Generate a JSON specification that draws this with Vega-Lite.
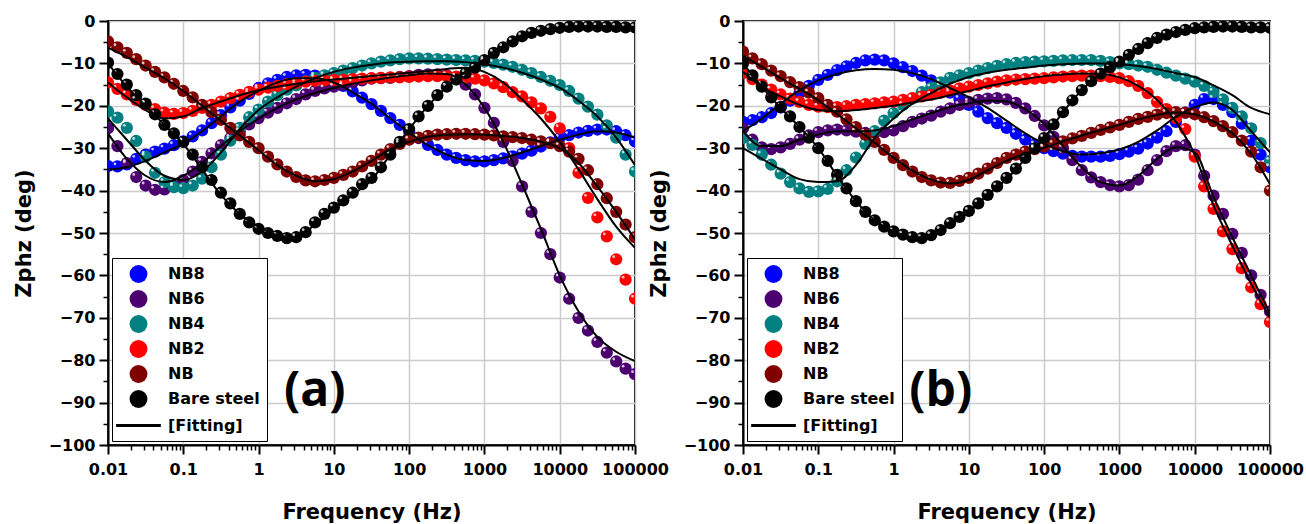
{
"$schema": "https://vega.github.io/schema/vega-lite/v6.json",
"background": "white",
"padding": {"left": 12, "top": 12, "right": 0, "bottom": 0},
"bounds": "flush",
"spacing": 108,
"resolve": {"scale": {"fill": "independent", "stroke": "independent", "shape": "independent", "strokeWidth": "independent"},
            "legend": {"fill": "independent", "stroke": "independent", "shape": "independent", "strokeWidth": "independent"}},
"config": {
  "view": {"stroke": "black", "strokeWidth": 2, "fill": "white"},
  "axis": {"labelFont": "DejaVu Sans", "labelFontWeight": "bold", "labelFontSize": 16, "labelColor": "black",
           "titleFont": "DejaVu Sans", "titleFontWeight": "bold", "titleFontSize": 21, "titleColor": "black",
           "tickColor": "black", "tickWidth": 2, "domainColor": "black", "domainWidth": 2,
           "gridColor": "#cccccc", "gridWidth": 1.5, "labelOverlap": false, "labelFlush": false},
  "legend": {"labelFont": "DejaVu Sans", "labelFontWeight": "bold", "labelFontSize": 16, "labelColor": "black",
             "orient": "bottom-left", "offset": 4, "padding": 7, "rowPadding": 7, "labelOffset": 19, "symbolSize": 320,
             "titleOrient": "left", "titleFontSize": 16, "titlePadding": 9,
             "strokeColor": "black", "fillColor": "white"}
},
"datasets": {
"pa": [
{"f":0.01,"NB8":-34.2,"NB6":-25.3,"NB4":-21.3,"NB2":-14.5,"NB":-4.8,"Bare steel":-9.8},
{"f":0.01334,"NB8":-34.3,"NB6":-29.5,"NB4":-22.8,"NB2":-16,"NB":-6.2,"Bare steel":-12.5},
{"f":0.01778,"NB8":-33.8,"NB6":-33.5,"NB4":-25.2,"NB2":-17.3,"NB":-7.5,"Bare steel":-15},
{"f":0.02371,"NB8":-32.5,"NB6":-36.8,"NB4":-28.3,"NB2":-18.6,"NB":-9,"Bare steel":-17.5},
{"f":0.03162,"NB8":-31.5,"NB6":-38.8,"NB4":-32,"NB2":-19.8,"NB":-10.5,"Bare steel":-19.5},
{"f":0.04217,"NB8":-30.8,"NB6":-39.8,"NB4":-35.8,"NB2":-20.8,"NB":-12,"Bare steel":-22},
{"f":0.05623,"NB8":-30.1,"NB6":-39.7,"NB4":-38,"NB2":-21.6,"NB":-13.3,"Bare steel":-24.5},
{"f":0.07499,"NB8":-29.3,"NB6":-38.9,"NB4":-39.2,"NB2":-21.9,"NB":-14.8,"Bare steel":-26.5},
{"f":0.1,"NB8":-28.4,"NB6":-37.5,"NB4":-39.4,"NB2":-21.7,"NB":-16.5,"Bare steel":-28.5},
{"f":0.1334,"NB8":-27.2,"NB6":-35.5,"NB4":-38.8,"NB2":-21.2,"NB":-18,"Bare steel":-31.5},
{"f":0.1778,"NB8":-25.8,"NB6":-33.2,"NB4":-37.2,"NB2":-20.5,"NB":-19.8,"Bare steel":-34.5},
{"f":0.2371,"NB8":-24.1,"NB6":-31.2,"NB4":-34.5,"NB2":-19.8,"NB":-21.5,"Bare steel":-37.5},
{"f":0.3162,"NB8":-22.2,"NB6":-29.3,"NB4":-31.5,"NB2":-19,"NB":-23.3,"Bare steel":-40.5},
{"f":0.4217,"NB8":-20.4,"NB6":-27.6,"NB4":-28.2,"NB2":-18.2,"NB":-25.2,"Bare steel":-43},
{"f":0.5623,"NB8":-18.8,"NB6":-26,"NB4":-25.2,"NB2":-17.4,"NB":-27,"Bare steel":-45.5},
{"f":0.7499,"NB8":-17.2,"NB6":-24.4,"NB4":-22.7,"NB2":-16.7,"NB":-28.5,"Bare steel":-47.5},
{"f":1,"NB8":-15.8,"NB6":-22.9,"NB4":-20.9,"NB2":-16.2,"NB":-30,"Bare steel":-49},
{"f":1.334,"NB8":-14.7,"NB6":-21.6,"NB4":-19,"NB2":-15.7,"NB":-32,"Bare steel":-50},
{"f":1.778,"NB8":-13.9,"NB6":-20.5,"NB4":-17.5,"NB2":-15.3,"NB":-33.8,"Bare steel":-50.7},
{"f":2.371,"NB8":-13.2,"NB6":-19.4,"NB4":-16.2,"NB2":-14.9,"NB":-35.5,"Bare steel":-51.2},
{"f":3.162,"NB8":-12.8,"NB6":-18.4,"NB4":-15.2,"NB2":-14.6,"NB":-36.8,"Bare steel":-51},
{"f":4.217,"NB8":-12.7,"NB6":-17.3,"NB4":-14.2,"NB2":-14.3,"NB":-37.6,"Bare steel":-49.8},
{"f":5.623,"NB8":-12.9,"NB6":-16.5,"NB4":-13.4,"NB2":-14.1,"NB":-37.8,"Bare steel":-47.5},
{"f":7.499,"NB8":-13.5,"NB6":-15.9,"NB4":-12.8,"NB2":-14,"NB":-37.5,"Bare steel":-45.5},
{"f":10,"NB8":-14.3,"NB6":-15.5,"NB4":-12.3,"NB2":-13.9,"NB":-37,"Bare steel":-44},
{"f":13.34,"NB8":-15.3,"NB6":-15,"NB4":-11.7,"NB2":-13.8,"NB":-36.3,"Bare steel":-42.3},
{"f":17.78,"NB8":-16.6,"NB6":-14.5,"NB4":-11.1,"NB2":-13.7,"NB":-35.5,"Bare steel":-40.5},
{"f":23.71,"NB8":-18.1,"NB6":-14,"NB4":-10.5,"NB2":-13.6,"NB":-34.3,"Bare steel":-38.5},
{"f":31.62,"NB8":-19.6,"NB6":-13.6,"NB4":-10,"NB2":-13.5,"NB":-33,"Bare steel":-37},
{"f":42.17,"NB8":-21.2,"NB6":-13.5,"NB4":-9.6,"NB2":-13.4,"NB":-31.5,"Bare steel":-34.5},
{"f":56.23,"NB8":-22.9,"NB6":-13.4,"NB4":-9.3,"NB2":-13.3,"NB":-30.2,"Bare steel":-31.5},
{"f":74.99,"NB8":-24.5,"NB6":-13.2,"NB4":-9,"NB2":-13.3,"NB":-29,"Bare steel":-28.5},
{"f":100,"NB8":-26,"NB6":-13,"NB4":-8.8,"NB2":-13.2,"NB":-28,"Bare steel":-25.5},
{"f":133.4,"NB8":-27.6,"NB6":-12.7,"NB4":-8.8,"NB2":-13.1,"NB":-27.5,"Bare steel":-22.5},
{"f":177.8,"NB8":-29.2,"NB6":-12.6,"NB4":-8.9,"NB2":-13,"NB":-27.1,"Bare steel":-20},
{"f":237.1,"NB8":-30.4,"NB6":-12.6,"NB4":-9,"NB2":-13,"NB":-26.8,"Bare steel":-17.5},
{"f":316.2,"NB8":-31.5,"NB6":-12.8,"NB4":-9.1,"NB2":-13,"NB":-26.7,"Bare steel":-15.5},
{"f":421.7,"NB8":-32.3,"NB6":-13.6,"NB4":-9.2,"NB2":-13.1,"NB":-26.6,"Bare steel":-13.8},
{"f":562.3,"NB8":-32.8,"NB6":-15,"NB4":-9.3,"NB2":-13.3,"NB":-26.6,"Bare steel":-12.3},
{"f":749.9,"NB8":-33.1,"NB6":-17.3,"NB4":-9.4,"NB2":-13.6,"NB":-26.7,"Bare steel":-11},
{"f":1000,"NB8":-33.1,"NB6":-20.5,"NB4":-9.6,"NB2":-14,"NB":-26.8,"Bare steel":-9.2},
{"f":1334,"NB8":-32.8,"NB6":-24,"NB4":-9.9,"NB2":-14.7,"NB":-27,"Bare steel":-7.5},
{"f":1778,"NB8":-32.4,"NB6":-28.5,"NB4":-10.3,"NB2":-15.6,"NB":-27.2,"Bare steel":-6.2},
{"f":2371,"NB8":-31.9,"NB6":-33,"NB4":-10.8,"NB2":-16.8,"NB":-27.4,"Bare steel":-4.8},
{"f":3162,"NB8":-31.3,"NB6":-39,"NB4":-11.5,"NB2":-17.8,"NB":-27.6,"Bare steel":-3.6},
{"f":4217,"NB8":-30.6,"NB6":-45,"NB4":-12.3,"NB2":-19.2,"NB":-28,"Bare steel":-2.8},
{"f":5623,"NB8":-29.6,"NB6":-50,"NB4":-13.2,"NB2":-20.6,"NB":-28.4,"Bare steel":-2.3},
{"f":7499,"NB8":-28.6,"NB6":-55,"NB4":-14.1,"NB2":-22.6,"NB":-28.8,"Bare steel":-1.9},
{"f":10000,"NB8":-27.6,"NB6":-60.5,"NB4":-15.1,"NB2":-25.3,"NB":-29.5,"Bare steel":-1.6},
{"f":13340,"NB8":-26.9,"NB6":-65.5,"NB4":-16.5,"NB2":-30,"NB":-30.8,"Bare steel":-1.4},
{"f":17780,"NB8":-26.3,"NB6":-70,"NB4":-18.3,"NB2":-35.8,"NB":-32.5,"Bare steel":-1.3},
{"f":23710,"NB8":-25.9,"NB6":-73,"NB4":-20.2,"NB2":-41.7,"NB":-35.2,"Bare steel":-1.3},
{"f":31620,"NB8":-25.6,"NB6":-75.7,"NB4":-22.1,"NB2":-46.3,"NB":-38.5,"Bare steel":-1.3},
{"f":42170,"NB8":-25.6,"NB6":-78.2,"NB4":-24.6,"NB2":-50.8,"NB":-41.8,"Bare steel":-1.4},
{"f":56230,"NB8":-26,"NB6":-80.3,"NB4":-27.5,"NB2":-56.2,"NB":-45,"Bare steel":-1.4},
{"f":74990,"NB8":-26.9,"NB6":-82,"NB4":-31.5,"NB2":-61,"NB":-48,"Bare steel":-1.5},
{"f":100000,"NB8":-28.4,"NB6":-83.3,"NB4":-35.5,"NB2":-65.5,"NB":-51,"Bare steel":-1.5}
],
"pb": [
{"f":0.01,"NB8":-23.8,"NB6":-25.3,"NB4":-27.6,"NB2":-12.3,"NB":-7.2,"Bare steel":-10},
{"f":0.01334,"NB8":-23.4,"NB6":-28,"NB4":-29.2,"NB2":-13.7,"NB":-8.8,"Bare steel":-12.8},
{"f":0.01778,"NB8":-22.7,"NB6":-29.8,"NB4":-31.5,"NB2":-15,"NB":-10.2,"Bare steel":-15.5},
{"f":0.02371,"NB8":-21.7,"NB6":-30.2,"NB4":-33.9,"NB2":-16.2,"NB":-11.7,"Bare steel":-18},
{"f":0.03162,"NB8":-20.4,"NB6":-29.8,"NB4":-36,"NB2":-17.3,"NB":-13,"Bare steel":-20.3},
{"f":0.04217,"NB8":-18.8,"NB6":-29,"NB4":-38,"NB2":-18.3,"NB":-14.4,"Bare steel":-22.5},
{"f":0.05623,"NB8":-17,"NB6":-28,"NB4":-39.5,"NB2":-19.1,"NB":-15.6,"Bare steel":-25},
{"f":0.07499,"NB8":-15.3,"NB6":-27,"NB4":-40.3,"NB2":-19.8,"NB":-16.9,"Bare steel":-27.5},
{"f":0.1,"NB8":-13.9,"NB6":-26.2,"NB4":-40.2,"NB2":-20.2,"NB":-18.2,"Bare steel":-30},
{"f":0.1334,"NB8":-12.7,"NB6":-25.8,"NB4":-39.6,"NB2":-20.3,"NB":-19.8,"Bare steel":-33},
{"f":0.1778,"NB8":-11.6,"NB6":-25.6,"NB4":-37.8,"NB2":-20.3,"NB":-21.4,"Bare steel":-36.3},
{"f":0.2371,"NB8":-10.7,"NB6":-25.8,"NB4":-35.2,"NB2":-20.1,"NB":-23.2,"Bare steel":-39.5},
{"f":0.3162,"NB8":-9.9,"NB6":-26.1,"NB4":-32.2,"NB2":-19.8,"NB":-25,"Bare steel":-42.5},
{"f":0.4217,"NB8":-9.3,"NB6":-26.4,"NB4":-29,"NB2":-19.6,"NB":-26.8,"Bare steel":-45},
{"f":0.5623,"NB8":-9.1,"NB6":-26.4,"NB4":-26,"NB2":-19.4,"NB":-28.5,"Bare steel":-47},
{"f":0.7499,"NB8":-9.3,"NB6":-26.2,"NB4":-23.5,"NB2":-19.2,"NB":-30.4,"Bare steel":-48.5},
{"f":1,"NB8":-10,"NB6":-25.8,"NB4":-21.7,"NB2":-19,"NB":-32.3,"Bare steel":-49.6},
{"f":1.334,"NB8":-10.9,"NB6":-24.8,"NB4":-19.8,"NB2":-18.6,"NB":-34,"Bare steel":-50.4},
{"f":1.778,"NB8":-11.8,"NB6":-23.8,"NB4":-18.3,"NB2":-18.2,"NB":-35.5,"Bare steel":-51},
{"f":2.371,"NB8":-12.9,"NB6":-23,"NB4":-16.8,"NB2":-17.8,"NB":-36.8,"Bare steel":-51.2},
{"f":3.162,"NB8":-14,"NB6":-22.3,"NB4":-15.7,"NB2":-17.4,"NB":-37.6,"Bare steel":-50.5},
{"f":4.217,"NB8":-15.4,"NB6":-21.4,"NB4":-14.5,"NB2":-16.9,"NB":-38.1,"Bare steel":-49.3},
{"f":5.623,"NB8":-16.9,"NB6":-20.6,"NB4":-13.4,"NB2":-16.4,"NB":-38.2,"Bare steel":-47.7},
{"f":7.499,"NB8":-18.4,"NB6":-19.8,"NB4":-12.8,"NB2":-15.9,"NB":-37.7,"Bare steel":-46.2},
{"f":10,"NB8":-19.8,"NB6":-19.1,"NB4":-12.3,"NB2":-15.5,"NB":-37,"Bare steel":-44.8},
{"f":13.34,"NB8":-21.4,"NB6":-18.6,"NB4":-11.7,"NB2":-15.1,"NB":-36,"Bare steel":-43},
{"f":17.78,"NB8":-22.9,"NB6":-18.3,"NB4":-11.1,"NB2":-14.7,"NB":-34.8,"Bare steel":-41},
{"f":23.71,"NB8":-24.1,"NB6":-18.2,"NB4":-10.6,"NB2":-14.3,"NB":-33.5,"Bare steel":-39},
{"f":31.62,"NB8":-25.2,"NB6":-18.5,"NB4":-10.2,"NB2":-14,"NB":-32.3,"Bare steel":-37},
{"f":42.17,"NB8":-26.6,"NB6":-19.3,"NB4":-9.9,"NB2":-13.8,"NB":-31.5,"Bare steel":-34.8},
{"f":56.23,"NB8":-28,"NB6":-20.6,"NB4":-9.7,"NB2":-13.7,"NB":-30.8,"Bare steel":-32.3},
{"f":74.99,"NB8":-29.1,"NB6":-22.4,"NB4":-9.6,"NB2":-13.6,"NB":-30.2,"Bare steel":-30},
{"f":100,"NB8":-30,"NB6":-24.6,"NB4":-9.5,"NB2":-13.5,"NB":-29.6,"Bare steel":-27.6},
{"f":133.4,"NB8":-30.7,"NB6":-27.3,"NB4":-9.4,"NB2":-13.3,"NB":-29,"Bare steel":-24.4},
{"f":177.8,"NB8":-31.3,"NB6":-30,"NB4":-9.3,"NB2":-13.1,"NB":-28.4,"Bare steel":-21.5},
{"f":237.1,"NB8":-31.8,"NB6":-32.8,"NB4":-9.2,"NB2":-13,"NB":-27.7,"Bare steel":-18.7},
{"f":316.2,"NB8":-32,"NB6":-35.2,"NB4":-9.2,"NB2":-12.9,"NB":-27.1,"Bare steel":-16.3},
{"f":421.7,"NB8":-32,"NB6":-36.9,"NB4":-9.2,"NB2":-12.9,"NB":-26.4,"Bare steel":-14.2},
{"f":562.3,"NB8":-32,"NB6":-38,"NB4":-9.4,"NB2":-13,"NB":-25.7,"Bare steel":-12.4},
{"f":749.9,"NB8":-31.8,"NB6":-38.7,"NB4":-9.7,"NB2":-13.2,"NB":-25.1,"Bare steel":-10.9},
{"f":1000,"NB8":-31.4,"NB6":-39,"NB4":-10,"NB2":-13.5,"NB":-24.5,"Bare steel":-9.6},
{"f":1334,"NB8":-30.8,"NB6":-38.7,"NB4":-10.2,"NB2":-14.2,"NB":-23.8,"Bare steel":-8},
{"f":1778,"NB8":-30.1,"NB6":-37.4,"NB4":-10.5,"NB2":-15.3,"NB":-23.1,"Bare steel":-6.6},
{"f":2371,"NB8":-28.9,"NB6":-35.2,"NB4":-10.8,"NB2":-17,"NB":-22.6,"Bare steel":-5.2},
{"f":3162,"NB8":-27.5,"NB6":-32.8,"NB4":-11.5,"NB2":-19.1,"NB":-22.1,"Bare steel":-4},
{"f":4217,"NB8":-26,"NB6":-30.7,"NB4":-12.2,"NB2":-20.8,"NB":-21.7,"Bare steel":-3.2},
{"f":5623,"NB8":-23.8,"NB6":-29.5,"NB4":-12.9,"NB2":-22.9,"NB":-21.5,"Bare steel":-2.6},
{"f":7499,"NB8":-21.6,"NB6":-29.3,"NB4":-13.6,"NB2":-25.5,"NB":-21.6,"Bare steel":-2.1},
{"f":10000,"NB8":-19.8,"NB6":-31.5,"NB4":-14.3,"NB2":-32,"NB":-22,"Bare steel":-1.7},
{"f":13340,"NB8":-18.4,"NB6":-36.5,"NB4":-15.3,"NB2":-39,"NB":-22.7,"Bare steel":-1.5},
{"f":17780,"NB8":-18.4,"NB6":-41.2,"NB4":-16.7,"NB2":-44.3,"NB":-23.6,"Bare steel":-1.4},
{"f":23710,"NB8":-19.8,"NB6":-45.5,"NB4":-18.5,"NB2":-49.6,"NB":-24.8,"Bare steel":-1.3},
{"f":31620,"NB8":-21.5,"NB6":-50.2,"NB4":-20.5,"NB2":-53.8,"NB":-26.2,"Bare steel":-1.3},
{"f":42170,"NB8":-24.2,"NB6":-54.7,"NB4":-22.5,"NB2":-58.3,"NB":-28.2,"Bare steel":-1.4},
{"f":56230,"NB8":-28.2,"NB6":-60,"NB4":-25.3,"NB2":-62.8,"NB":-30.8,"Bare steel":-1.5},
{"f":74990,"NB8":-31.5,"NB6":-64.6,"NB4":-28.8,"NB2":-66.8,"NB":-34.5,"Bare steel":-1.5},
{"f":100000,"NB8":-34.5,"NB6":-68.5,"NB4":-33,"NB2":-71,"NB":-40,"Bare steel":-1.6}
],
"fa": [
{"f":0.01,"NB8":-35,"NB6":-26.5,"NB4":-23,"NB2":-14.5,"NB":-6.3,"Bare steel":-10},
{"f":0.01778,"NB8":-34.5,"NB6":-32.5,"NB4":-28,"NB2":-18,"NB":-8.5,"Bare steel":-15.5},
{"f":0.03162,"NB8":-33,"NB6":-36.5,"NB4":-33,"NB2":-21,"NB":-11,"Bare steel":-20},
{"f":0.05623,"NB8":-31,"NB6":-38,"NB4":-36.5,"NB2":-23,"NB":-13.5,"Bare steel":-24.5},
{"f":0.1,"NB8":-29,"NB6":-36.5,"NB4":-37.5,"NB2":-22.5,"NB":-16.5,"Bare steel":-29},
{"f":0.1778,"NB8":-26,"NB6":-33.5,"NB4":-35.5,"NB2":-20.5,"NB":-20,"Bare steel":-35},
{"f":0.3162,"NB8":-22.5,"NB6":-29.5,"NB4":-31,"NB2":-19,"NB":-23.5,"Bare steel":-41},
{"f":0.5623,"NB8":-19,"NB6":-26,"NB4":-25.5,"NB2":-17.5,"NB":-27,"Bare steel":-45.5},
{"f":1,"NB8":-16.5,"NB6":-23,"NB4":-21,"NB2":-16.3,"NB":-30.5,"Bare steel":-48.5},
{"f":1.778,"NB8":-14.5,"NB6":-20.5,"NB4":-18,"NB2":-15.5,"NB":-34,"Bare steel":-50.5},
{"f":3.162,"NB8":-13.5,"NB6":-18.5,"NB4":-15.5,"NB2":-14.8,"NB":-36.5,"Bare steel":-51},
{"f":5.623,"NB8":-13.5,"NB6":-17,"NB4":-13.5,"NB2":-14.2,"NB":-37.8,"Bare steel":-48},
{"f":10,"NB8":-14.5,"NB6":-15.8,"NB4":-12,"NB2":-13.8,"NB":-37.3,"Bare steel":-44.5},
{"f":17.78,"NB8":-16.8,"NB6":-14.8,"NB4":-11,"NB2":-13.4,"NB":-35.5,"Bare steel":-41},
{"f":31.62,"NB8":-19.5,"NB6":-14,"NB4":-10.3,"NB2":-13,"NB":-33,"Bare steel":-37.5},
{"f":56.23,"NB8":-23,"NB6":-13.3,"NB4":-9.8,"NB2":-12.6,"NB":-30.3,"Bare steel":-31.5},
{"f":100,"NB8":-26.3,"NB6":-12.8,"NB4":-9.6,"NB2":-12.2,"NB":-28.5,"Bare steel":-25.5},
{"f":177.8,"NB8":-29.3,"NB6":-12.4,"NB4":-9.5,"NB2":-11.8,"NB":-27.3,"Bare steel":-20},
{"f":316.2,"NB8":-31.5,"NB6":-12.5,"NB4":-9.5,"NB2":-11.3,"NB":-26.8,"Bare steel":-15.5},
{"f":562.3,"NB8":-32.8,"NB6":-15,"NB4":-9.7,"NB2":-11,"NB":-26.7,"Bare steel":-12},
{"f":1000,"NB8":-33,"NB6":-20.5,"NB4":-10.2,"NB2":-12,"NB":-26.8,"Bare steel":-9},
{"f":1778,"NB8":-32.3,"NB6":-28.5,"NB4":-11,"NB2":-14.5,"NB":-27.1,"Bare steel":-6},
{"f":3162,"NB8":-31,"NB6":-38.5,"NB4":-12.2,"NB2":-18.5,"NB":-27.6,"Bare steel":-3.8},
{"f":5623,"NB8":-29.5,"NB6":-49,"NB4":-13.8,"NB2":-23,"NB":-28.5,"Bare steel":-2.3},
{"f":10000,"NB8":-28,"NB6":-60,"NB4":-15.8,"NB2":-28.5,"NB":-30,"Bare steel":-1.6},
{"f":17780,"NB8":-26.8,"NB6":-68.5,"NB4":-18.8,"NB2":-35,"NB":-33.5,"Bare steel":-1.3},
{"f":31620,"NB8":-26,"NB6":-74.5,"NB4":-22.5,"NB2":-42,"NB":-39,"Bare steel":-1.2},
{"f":56230,"NB8":-26.3,"NB6":-78,"NB4":-27.5,"NB2":-48.5,"NB":-45,"Bare steel":-1.3},
{"f":100000,"NB8":-27.5,"NB6":-80.2,"NB4":-34,"NB2":-53.5,"NB":-51.5,"Bare steel":-1.4}
],
"fb": [
{"f":0.01,"NB8":-26,"NB6":-26,"NB4":-30,"NB2":-12,"NB":-8.2,"Bare steel":-10},
{"f":0.01778,"NB8":-23,"NB6":-29.5,"NB4":-32.5,"NB2":-15.5,"NB":-10.8,"Bare steel":-15.5},
{"f":0.03162,"NB8":-19.5,"NB6":-29.5,"NB4":-35,"NB2":-17.8,"NB":-13.5,"Bare steel":-20.5},
{"f":0.05623,"NB8":-16.3,"NB6":-28,"NB4":-37.3,"NB2":-19.8,"NB":-16,"Bare steel":-25},
{"f":0.1,"NB8":-14,"NB6":-26.8,"NB4":-38,"NB2":-21,"NB":-18.7,"Bare steel":-30},
{"f":0.1778,"NB8":-12.5,"NB6":-26,"NB4":-37.8,"NB2":-21.3,"NB":-22,"Bare steel":-36.5},
{"f":0.3162,"NB8":-11.6,"NB6":-26,"NB4":-34,"NB2":-21,"NB":-25.3,"Bare steel":-42.5},
{"f":0.5623,"NB8":-11.3,"NB6":-25.8,"NB4":-27.5,"NB2":-20.5,"NB":-28.7,"Bare steel":-47},
{"f":1,"NB8":-11.5,"NB6":-24.8,"NB4":-23,"NB2":-20,"NB":-32.2,"Bare steel":-49.6},
{"f":1.778,"NB8":-12.3,"NB6":-23.2,"NB4":-19.5,"NB2":-19.2,"NB":-35.3,"Bare steel":-51},
{"f":3.162,"NB8":-13.7,"NB6":-21.7,"NB4":-17,"NB2":-18.5,"NB":-37.4,"Bare steel":-50.8},
{"f":5.623,"NB8":-15.8,"NB6":-20.3,"NB4":-14.8,"NB2":-17.5,"NB":-38.3,"Bare steel":-48},
{"f":10,"NB8":-18,"NB6":-19.4,"NB4":-13.2,"NB2":-16.5,"NB":-37.5,"Bare steel":-45},
{"f":17.78,"NB8":-20.5,"NB6":-18.8,"NB4":-12.2,"NB2":-15.4,"NB":-35.2,"Bare steel":-41},
{"f":31.62,"NB8":-23.5,"NB6":-19,"NB4":-11.5,"NB2":-14.5,"NB":-33,"Bare steel":-37.3},
{"f":56.23,"NB8":-26.5,"NB6":-20.8,"NB4":-11,"NB2":-13.7,"NB":-31.3,"Bare steel":-32.5},
{"f":100,"NB8":-29,"NB6":-24.3,"NB4":-10.5,"NB2":-13,"NB":-29.9,"Bare steel":-27.6},
{"f":177.8,"NB8":-30.7,"NB6":-29.5,"NB4":-10.2,"NB2":-12.6,"NB":-28.4,"Bare steel":-21.5},
{"f":316.2,"NB8":-31.5,"NB6":-34.5,"NB4":-10,"NB2":-12.4,"NB":-27,"Bare steel":-16.3},
{"f":562.3,"NB8":-31.2,"NB6":-38,"NB4":-10,"NB2":-12.5,"NB":-25.7,"Bare steel":-12.4},
{"f":1000,"NB8":-30.3,"NB6":-38.8,"NB4":-10.2,"NB2":-13.3,"NB":-24.5,"Bare steel":-9.6},
{"f":1778,"NB8":-28.5,"NB6":-36.5,"NB4":-10.6,"NB2":-15.3,"NB":-23.2,"Bare steel":-6.6},
{"f":3162,"NB8":-25.8,"NB6":-32.5,"NB4":-11.3,"NB2":-18.6,"NB":-22.2,"Bare steel":-4},
{"f":5623,"NB8":-22.6,"NB6":-29.8,"NB4":-12.3,"NB2":-23.8,"NB":-21.6,"Bare steel":-2.6},
{"f":10000,"NB8":-20.3,"NB6":-31,"NB4":-13.2,"NB2":-31.5,"NB":-22,"Bare steel":-1.7},
{"f":17780,"NB8":-19.2,"NB6":-41.5,"NB4":-15.2,"NB2":-43.5,"NB":-23.7,"Bare steel":-1.4},
{"f":31620,"NB8":-21,"NB6":-51,"NB4":-17.5,"NB2":-53,"NB":-26.5,"Bare steel":-1.3},
{"f":56230,"NB8":-26,"NB6":-60,"NB4":-20.5,"NB2":-62,"NB":-31.3,"Bare steel":-1.4},
{"f":100000,"NB8":-31,"NB6":-69,"NB4":-22,"NB2":-70,"NB":-38.5,"Bare steel":-1.6}
],
"la": [{"f": 5.56, "z": -87.5, "t": "(a)"}],
"lb": [{"f": 4.23, "z": -87.5, "t": "(b)"}]
},
"hconcat": [
{
"width": 527, "height": 424,
"resolve": {"axis": {"x": "independent", "y": "independent"}},
"layer": [
{"data": {"name": "la"}, "mark": {"type": "point", "opacity": 0},
 "encoding": {
  "x": {"field": "f", "type": "quantitative", "scale": {"type": "log", "domain": [0.01, 100000], "nice": false},
        "axis": {"orient": "bottom", "values": [0.02,0.03,0.04,0.05,0.06,0.07,0.08,0.09,0.2,0.3,0.4,0.5,0.6,0.7,0.8,0.9,2,3,4,5,6,7,8,9,20,30,40,50,60,70,80,90,200,300,400,500,600,700,800,900,2000,3000,4000,5000,6000,7000,8000,9000,20000,30000,40000,50000,60000,70000,80000,90000],
                 "labels": false, "grid": false, "domain": false, "tickSize": 5, "tickWidth": 1.5, "title": null}},
  "y": {"field": "z", "type": "quantitative", "scale": {"domain": [-100, 0], "nice": false, "zero": false},
        "axis": {"orient": "left", "values": [-95,-85,-75,-65,-55,-45,-35,-25,-15,-5], "labels": false, "grid": false, "domain": false, "tickSize": 5, "tickWidth": 1.5, "title": null}}
 }},
{"data": {"name": "pa"},
 "transform": [{"fold": ["NB8","NB6","NB4","NB2","NB","Bare steel"], "as": ["key","z"]}],
 "mark": {"type": "point", "filled": true, "opacity": 1, "size": 150, "clip": true},
 "encoding": {
  "x": {"field": "f", "type": "quantitative", "scale": {"type": "log", "domain": [0.01, 100000], "nice": false},
        "axis": {"orient": "bottom", "values": [0.01,0.1,1,10,100,1000,10000,100000], "format": "~g", "title": "Frequency (Hz)", "grid": true, "tickSize": 9, "labelPadding": 7, "titlePadding": 24}},
  "y": {"field": "z", "type": "quantitative", "scale": {"domain": [-100, 0], "nice": false, "zero": false},
        "axis": {"orient": "left", "values": [-100,-90,-80,-70,-60,-50,-40,-30,-20,-10,0], "title": "Zphz (deg)", "grid": true, "tickSize": 9, "labelPadding": 4, "titlePadding": 14}},
  "fill": {"field": "key", "type": "nominal", "title": " ",
    "scale": {"domain": ["NB8","NB6","NB4","NB2","NB","Bare steel","[Fitting]"], "range": ["#0000ff","#4c0070","#008080","#ff0000","#800000","#000000","#000000"]}},
  "stroke": {"field": "key", "type": "nominal", "title": " ",
    "scale": {"domain": ["NB8","NB6","NB4","NB2","NB","Bare steel","[Fitting]"], "range": ["transparent","transparent","transparent","transparent","transparent","transparent","#000000"]}},
  "strokeWidth": {"field": "key", "type": "nominal", "title": " ",
    "scale": {"type": "ordinal", "domain": ["NB8","NB6","NB4","NB2","NB","Bare steel","[Fitting]"], "range": [0,0,0,0,0,0,3]}},
  "shape": {"field": "key", "type": "nominal", "title": " ",
    "scale": {"domain": ["NB8","NB6","NB4","NB2","NB","Bare steel","[Fitting]"], "range": ["circle","circle","circle","circle","circle","circle","M-2.5,0H2.5"]}},
  "order": {"field": "key", "type": "nominal", "sort": "descending"}
 }},
{"data": {"name": "pa"},
 "transform": [{"fold": ["NB8","NB6","NB4","NB2","NB","Bare steel"], "as": ["key","z"]}],
 "mark": {"type": "point", "filled": true, "color": "white", "opacity": 0.75, "size": 8, "xOffset": -2.5, "yOffset": -2.5, "clip": true},
 "encoding": {
  "x": {"field": "f", "type": "quantitative", "axis": null},
  "y": {"field": "z", "type": "quantitative", "axis": null},
  "order": {"field": "key", "type": "nominal", "sort": "descending"}
 }},
{"data": {"name": "fa"},
 "transform": [{"fold": ["NB8","NB6","NB4","NB2","NB","Bare steel"], "as": ["key","z"]}],
 "mark": {"type": "line", "color": "black", "strokeWidth": 2, "interpolate": "monotone", "clip": true},
 "encoding": {
  "x": {"field": "f", "type": "quantitative", "axis": null},
  "y": {"field": "z", "type": "quantitative", "axis": null},
  "detail": {"field": "key", "type": "nominal"}
 }},
{"data": {"name": "la"},
 "mark": {"type": "text", "font": "Open Sans", "fontWeight": "bold", "fontSize": 48, "align": "center", "baseline": "middle", "color": "black"},
 "encoding": {
  "x": {"field": "f", "type": "quantitative", "axis": null},
  "y": {"field": "z", "type": "quantitative", "axis": null},
  "text": {"field": "t"}
 }}
]
},
{
"width": 527, "height": 424,
"resolve": {"axis": {"x": "independent", "y": "independent"}},
"layer": [
{"data": {"name": "lb"}, "mark": {"type": "point", "opacity": 0},
 "encoding": {
  "x": {"field": "f", "type": "quantitative", "scale": {"type": "log", "domain": [0.01, 100000], "nice": false},
        "axis": {"orient": "bottom", "values": [0.02,0.03,0.04,0.05,0.06,0.07,0.08,0.09,0.2,0.3,0.4,0.5,0.6,0.7,0.8,0.9,2,3,4,5,6,7,8,9,20,30,40,50,60,70,80,90,200,300,400,500,600,700,800,900,2000,3000,4000,5000,6000,7000,8000,9000,20000,30000,40000,50000,60000,70000,80000,90000],
                 "labels": false, "grid": false, "domain": false, "tickSize": 5, "tickWidth": 1.5, "title": null}},
  "y": {"field": "z", "type": "quantitative", "scale": {"domain": [-100, 0], "nice": false, "zero": false},
        "axis": {"orient": "left", "values": [-95,-85,-75,-65,-55,-45,-35,-25,-15,-5], "labels": false, "grid": false, "domain": false, "tickSize": 5, "tickWidth": 1.5, "title": null}}
 }},
{"data": {"name": "pb"},
 "transform": [{"fold": ["NB8","NB6","NB4","NB2","NB","Bare steel"], "as": ["key","z"]}],
 "mark": {"type": "point", "filled": true, "opacity": 1, "size": 150, "clip": true},
 "encoding": {
  "x": {"field": "f", "type": "quantitative", "scale": {"type": "log", "domain": [0.01, 100000], "nice": false},
        "axis": {"orient": "bottom", "values": [0.01,0.1,1,10,100,1000,10000,100000], "format": "~g", "title": "Frequency (Hz)", "grid": true, "tickSize": 9, "labelPadding": 7, "titlePadding": 24}},
  "y": {"field": "z", "type": "quantitative", "scale": {"domain": [-100, 0], "nice": false, "zero": false},
        "axis": {"orient": "left", "values": [-100,-90,-80,-70,-60,-50,-40,-30,-20,-10,0], "title": "Zphz (deg)", "grid": true, "tickSize": 9, "labelPadding": 4, "titlePadding": 14}},
  "fill": {"field": "key", "type": "nominal", "title": " ",
    "scale": {"domain": ["NB8","NB6","NB4","NB2","NB","Bare steel","[Fitting]"], "range": ["#0000ff","#4c0070","#008080","#ff0000","#800000","#000000","#000000"]}},
  "stroke": {"field": "key", "type": "nominal", "title": " ",
    "scale": {"domain": ["NB8","NB6","NB4","NB2","NB","Bare steel","[Fitting]"], "range": ["transparent","transparent","transparent","transparent","transparent","transparent","#000000"]}},
  "strokeWidth": {"field": "key", "type": "nominal", "title": " ",
    "scale": {"type": "ordinal", "domain": ["NB8","NB6","NB4","NB2","NB","Bare steel","[Fitting]"], "range": [0,0,0,0,0,0,3]}},
  "shape": {"field": "key", "type": "nominal", "title": " ",
    "scale": {"domain": ["NB8","NB6","NB4","NB2","NB","Bare steel","[Fitting]"], "range": ["circle","circle","circle","circle","circle","circle","M-2.5,0H2.5"]}},
  "order": {"field": "key", "type": "nominal", "sort": "descending"}
 }},
{"data": {"name": "pb"},
 "transform": [{"fold": ["NB8","NB6","NB4","NB2","NB","Bare steel"], "as": ["key","z"]}],
 "mark": {"type": "point", "filled": true, "color": "white", "opacity": 0.75, "size": 8, "xOffset": -2.5, "yOffset": -2.5, "clip": true},
 "encoding": {
  "x": {"field": "f", "type": "quantitative", "axis": null},
  "y": {"field": "z", "type": "quantitative", "axis": null},
  "order": {"field": "key", "type": "nominal", "sort": "descending"}
 }},
{"data": {"name": "fb"},
 "transform": [{"fold": ["NB8","NB6","NB4","NB2","NB","Bare steel"], "as": ["key","z"]}],
 "mark": {"type": "line", "color": "black", "strokeWidth": 2, "interpolate": "monotone", "clip": true},
 "encoding": {
  "x": {"field": "f", "type": "quantitative", "axis": null},
  "y": {"field": "z", "type": "quantitative", "axis": null},
  "detail": {"field": "key", "type": "nominal"}
 }},
{"data": {"name": "lb"},
 "mark": {"type": "text", "font": "Open Sans", "fontWeight": "bold", "fontSize": 48, "align": "center", "baseline": "middle", "color": "black"},
 "encoding": {
  "x": {"field": "f", "type": "quantitative", "axis": null},
  "y": {"field": "z", "type": "quantitative", "axis": null},
  "text": {"field": "t"}
 }}
]
}
]
}
